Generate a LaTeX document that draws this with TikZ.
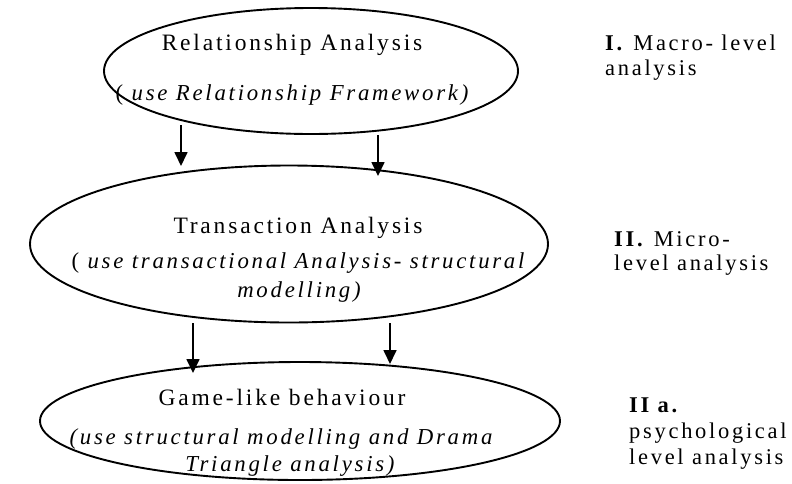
\documentclass[tikz,border=0pt]{standalone}
\usepackage{fontspec}
\setmainfont{Liberation Serif}[LetterSpace=12]
\usetikzlibrary{shapes.geometric,arrows.meta}
\begin{document}
\begin{tikzpicture}[x=1pt,y=-1pt,
  stage/.style={draw=black,line width=1.9pt,ellipse,inner sep=0pt},
  maintext/.style={anchor=base,inner sep=0pt,font=\fontsize{23.5}{27}\selectfont},
  subtext/.style={anchor=base,inner sep=0pt,font=\fontsize{22.8}{27}\selectfont\itshape},
  sidetext/.style={anchor=base west,inner sep=0pt,font=\fontsize{22.5}{26}\selectfont},
  flow/.style={line width=1.7pt,-{Triangle[length=14pt,width=13pt]}}]
\useasboundingbox (0,0) rectangle (792,483);

% the three analysis stages
\node[stage,minimum width=414pt,minimum height=126pt] (rel) at (311,71) {};
\node[stage,minimum width=518pt,minimum height=157pt] (trans) at (289,244) {};
\node[stage,minimum width=520pt,minimum height=118pt] (game) at (300,421) {};

% stage texts
\node[maintext] (relA) at (292,50) {Relationship Analysis};
\node[subtext] (relB) at (292,100) {\upshape(\itshape\ use Relationship Framework)};
\node[maintext] (trA) at (298,233) {Transaction Analysis};
\node[subtext] (trB) at (298,268) {\upshape(\itshape\ use transactional Analysis- structural};
\node[subtext] (trC) at (299,297) {modelling)};
\node[maintext] (gaA) at (282,405) {Game-like behaviour};
\node[subtext] (gaB) at (281,444) {(use structural modelling and Drama};
\node[subtext] (gaC) at (290,471) {Triangle analysis)};

% level labels
\node[sidetext] (l1a) at (605,50) {\textbf{I.} Macro- level};
\node[sidetext] (l1b) at (605,75) {analysis};
\node[sidetext] (l2a) at (614,246) {\textbf{II.} Micro-};
\node[sidetext] (l2b) at (614,270) {level analysis};
\node[sidetext] (l3a) at (629,412) {\textbf{II a.}};
\node[sidetext] (l3b) at (629,438) {psychological};
\node[sidetext] (l3c) at (629,464) {level analysis};

% arrow end points
\coordinate (r1s) at (181,125);
\coordinate (t1e) at (181,166);
\coordinate (r2s) at (378,135);
\coordinate (t2e) at (378,176);
\coordinate (t3s) at (193,323);
\coordinate (g1e) at (193,373);
\coordinate (t4s) at (390,323);
\coordinate (g2e) at (390,364);

\draw[flow] (r1s) -- (t1e);
\draw[flow] (r2s) -- (t2e);
\draw[flow] (t3s) -- (g1e);
\draw[flow] (t4s) -- (g2e);
\end{tikzpicture}
\end{document}
